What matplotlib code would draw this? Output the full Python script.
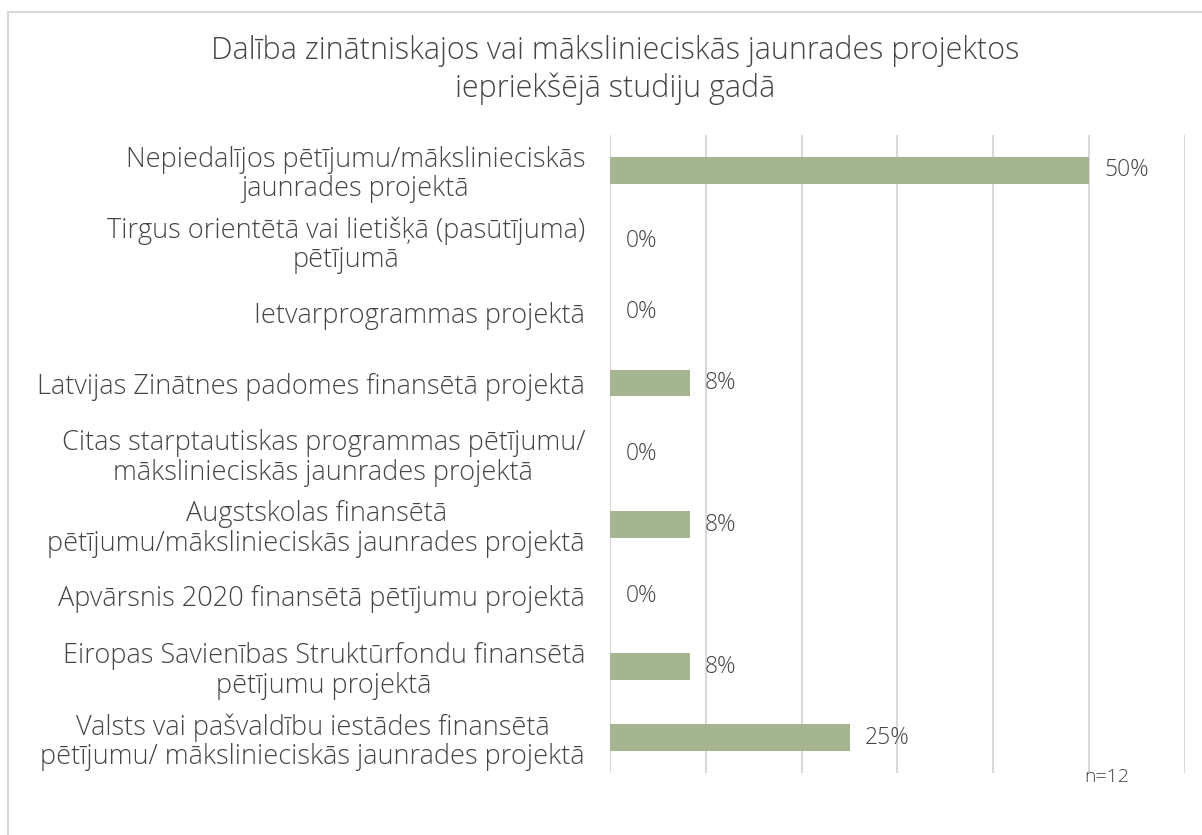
import matplotlib.pyplot as plt
import matplotlib.patches as patches

plt.rcParams['font.family'] = ['Open Sans', 'DejaVu Sans']

# Data
categories = [
    'Nepiedalījos pētījumu/mākslinieciskās\njaunrades projektā',
    'Tirgus orientētā vai lietišķā (pasūtījuma)\npētījumā',
    'Ietvarprogrammas projektā',
    'Latvijas Zinātnes padomes finansētā projektā',
    'Citas starptautiskas programmas pētījumu/\nmākslinieciskās jaunrades projektā',
    'Augstskolas finansētā\npētījumu/mākslinieciskās jaunrades projektā',
    'Apvārsnis 2020 finansētā pētījumu projektā',
    'Eiropas Savienības Struktūrfondu finansētā\npētījumu projektā',
    'Valsts vai pašvaldību iestādes finansētā\npētījumu/ mākslinieciskās jaunrades projektā',
]
values = [50, 0, 0, 8.33, 0, 8.33, 0, 8.33, 25]
value_labels = ['50%', '0%', '0%', '8%', '0%', '8%', '0%', '8%', '25%']
title = 'Dalība zinātniskajos vai mākslinieciskās jaunrades projektos\niepriekšējā studiju gadā'
note = 'n=12'

text_color = '#454545'
bar_color = '#a5b592'
grid_color = '#d9d9d9'

fig = plt.figure(figsize=(12.02, 8.35), dpi=100)
ax = fig.add_axes([0.5075, 0.0737, 0.4783, 0.7652])

# Chart border (cut off at right and bottom like the reference)
border = patches.Rectangle((8 / 1202, -0.05), 1.2, 1 - 12 / 835 + 0.05,
                           transform=fig.transFigure, fill=False,
                           edgecolor='#d9d9d9', linewidth=1.5)
fig.patches.append(border)

y = list(range(len(categories)))
ax.barh(y, values, height=0.38, color=bar_color, zorder=2)

for yi, v, lab in zip(y, values, value_labels):
    ax.annotate(lab, (v, yi), xytext=(11, 0), textcoords='offset points',
                va='center', ha='left', fontsize=16.5, color=text_color,
                fontweight='light')

ax.set_xlim(0, 60)
ax.set_ylim(len(categories) - 0.5, -0.5)
ax.set_xticks(range(0, 61, 10))
ax.xaxis.grid(True, color=grid_color, linewidth=1.5, zorder=0)
ax.tick_params(axis='x', length=0, labelbottom=False)
ax.tick_params(axis='y', length=0, pad=18)
ax.set_yticks(y)
ax.set_yticklabels(categories, fontsize=19.5, color=text_color, ha='right',
                   multialignment='center', linespacing=1.08,
                   fontweight='light')
for s in ax.spines.values():
    s.set_visible(False)

fig.text(0.512, 0.916, title, ha='center', va='center', fontsize=22,
         color=text_color, linespacing=1.2, fontweight='light')
fig.text(0.921, 0.07, note, ha='center', va='center', fontsize=14,
         color=text_color, fontweight='light')

fig.savefig('out.png', dpi=100)
